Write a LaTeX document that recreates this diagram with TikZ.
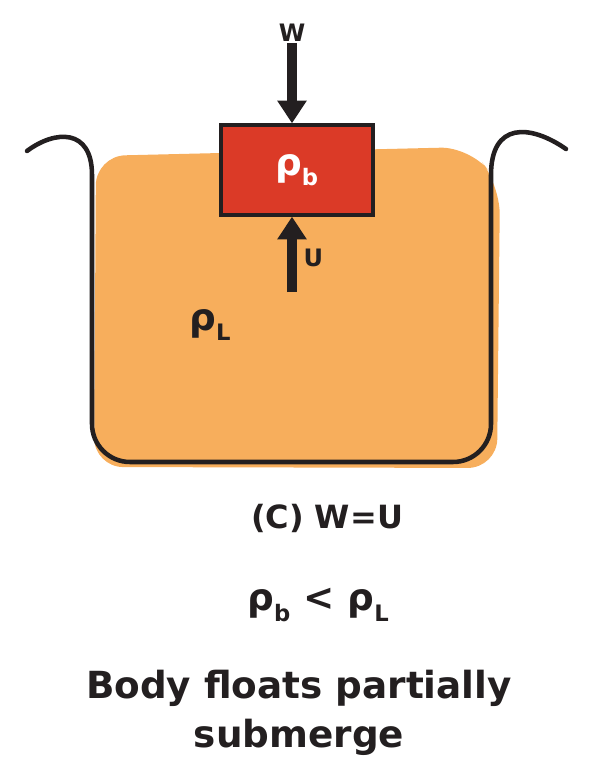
\documentclass[tikz,border=0pt]{standalone}
\usepackage{fontspec}
\setmainfont{DejaVu Sans}
\usepackage{tikz}
\usetikzlibrary{arrows.meta}
\definecolor{liquide}{HTML}{F7AE5C}
\definecolor{corps}{HTML}{DB3A27}
\definecolor{trait}{HTML}{231F20}
\newcommand{\indice}[1]{\raisebox{-0.5ex}{\fontsize{17}{17}\selectfont #1}}
\tikzset{
  paroi/.style={draw=trait, line width=3.4pt, line cap=round},
  force/.style={draw=trait, line width=8pt, -{Triangle[width=21pt,length=17pt]}},
  etiquette/.style={text=trait, inner sep=1pt, font=\bfseries\fontsize{18}{20}\selectfont}
}
\begin{document}
\begin{tikzpicture}[x=0.75pt,y=-0.75pt]
  \useasboundingbox (0,0) rectangle (596,781);
  \fill[liquide, rounded corners=22pt] (96,156) -- (470,147) -- (500,185) -- (497,468) -- (94,467) -- cycle;
  \draw[paroi] (27,151) .. controls (55,130) and (92,128) .. (92,175) -- (92,424)
    .. controls (92,445) and (109,462) .. (130,462) -- (453,462) .. controls (474,462) and (491,445) .. (491,424)
    -- (491,175) .. controls (491,122) and (530,124) .. (566,149);
  \node[draw=trait, line width=3pt, fill=corps, minimum width=114pt, minimum height=67pt, text=white,
    font=\bfseries\fontsize{28}{30}\selectfont] (corps) at (296.5,170) {ρ\indice{b}};
  \node[etiquette] (poidsW) at (292,33) {W};
  \coordinate (queueU) at (292,292);
  \node[etiquette, anchor=west] (pousseeU) at (302,258) {U};
  \draw[force] (poidsW) -- (poidsW |- corps.north);
  \draw[force] (queueU) -- (corps.south -| queueU);
  \node[text=trait, font=\bfseries\fontsize{28}{30}\selectfont] (rhoL) at (210,325) {ρ\indice{L}};
  \node[text=trait, font=\bfseries\fontsize{24}{28}\selectfont] (cas) at (327,518) {(C) W=U};
  \node[text=trait, font=\bfseries\fontsize{28}{30}\selectfont] (compar) at (318,605) {ρ\indice{b} < ρ\indice{L}};
  \node[text=trait, align=center, font=\bfseries\fontsize{28}{37}\selectfont] (concl) at (299,713) {Body floats partially\\submerge};
\end{tikzpicture}
\end{document}
